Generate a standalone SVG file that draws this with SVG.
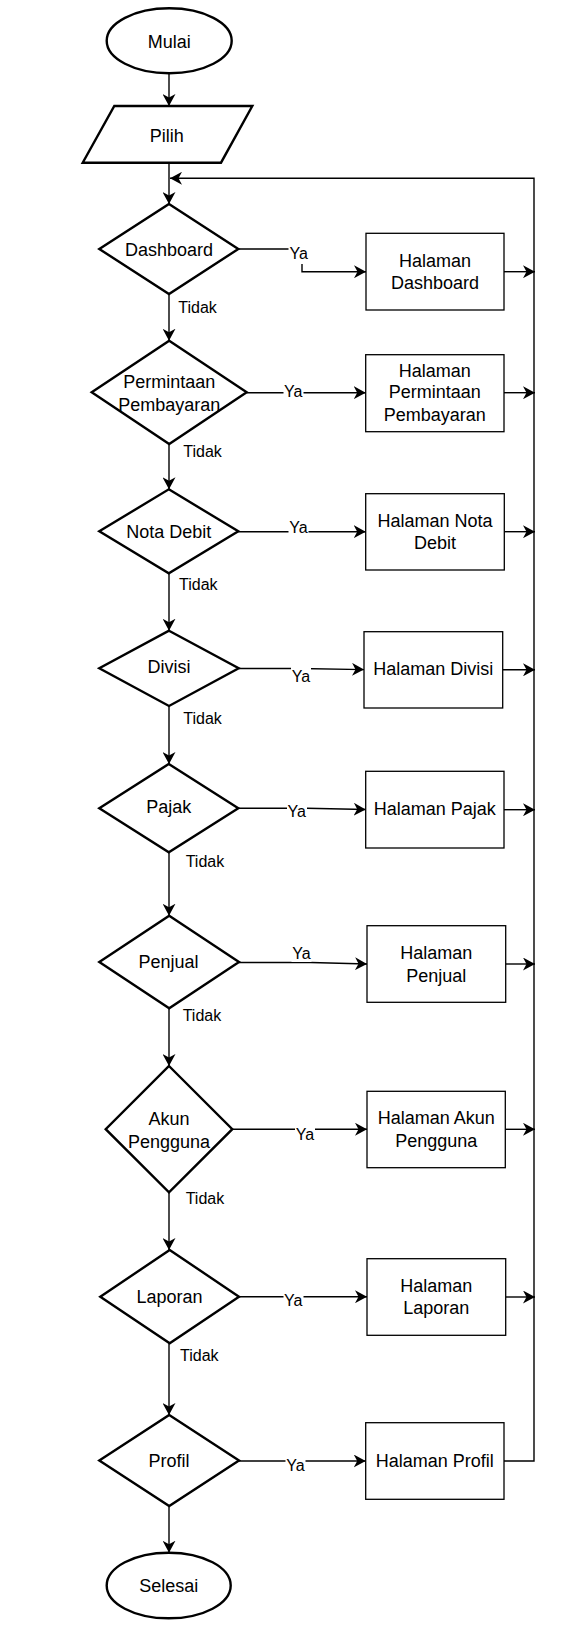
<svg xmlns="http://www.w3.org/2000/svg" width="576" height="1629" viewBox="0 0 576 1629">
<style>
.shape{fill:#fff;stroke:#000;stroke-width:2.4}
.box{fill:#fff;stroke:#000;stroke-width:1.3}
.t{font-family:"Liberation Sans",Arial,sans-serif;font-size:18px;fill:#000;text-anchor:middle}
.lbl{font-family:"Liberation Sans",Arial,sans-serif;font-size:16px;fill:#000}
.ya{text-anchor:middle}
.c{fill:none;stroke:#000;stroke-width:1.4}
.a{marker-end:url(#arr)}
.bg{fill:#fff}
</style>
<defs>
<marker id="arr" viewBox="0 0 12 13" refX="12" refY="6.5" markerWidth="12" markerHeight="13" markerUnits="userSpaceOnUse" orient="auto">
<path d="M0,0 L12,6.5 L0,13 L3.5,6.5 Z" fill="#000"/>
</marker>
</defs>
<rect width="576" height="1629" fill="#fff"/>

<g id="connectors">
<path class="c a" d="M169,73.3 V106"/>
<path class="c a" d="M169,163 V204"/>
<path class="c a" d="M169,294 V340.7"/>
<path class="c a" d="M169,444 V489.3"/>
<path class="c a" d="M169,573.3 V630.7"/>
<path class="c a" d="M169,706 V764"/>
<path class="c a" d="M169,852.3 V915.7"/>
<path class="c a" d="M169,1008.3 V1066"/>
<path class="c a" d="M169,1192.3 V1250"/>
<path class="c a" d="M169,1343.3 V1415"/>
<path class="c a" d="M169,1506 V1552.7"/>

<path class="c a" d="M238.3,249 H302 V271.7 H366"/>
<path class="c a" d="M246.7,392.7 H365.7"/>
<path class="c a" d="M238.3,531.7 H365.7"/>
<path class="c a" d="M239,668.5 H300 L364,669.6"/>
<path class="c a" d="M238.3,808.3 H306.7 L365.7,809.5"/>
<path class="c a" d="M239,962.5 H310.7 L367,964"/>
<path class="c a" d="M232.3,1129.3 H367"/>
<path class="c a" d="M239,1296.7 H367"/>
<path class="c a" d="M239,1461 H365.7"/>

<path class="c a" d="M504,271.7 H535"/>
<path class="c a" d="M504,392.7 H535"/>
<path class="c a" d="M504.3,531.7 H535"/>
<path class="c a" d="M502.7,669.8 H535"/>
<path class="c a" d="M504,809.7 H535"/>
<path class="c a" d="M505.7,964 H535"/>
<path class="c a" d="M505.3,1129.3 H535"/>
<path class="c a" d="M505.7,1297 H535"/>
<path class="c a" d="M504,1461 H534 V178.3 H170"/>

<rect class="bg" x="288.5" y="244" width="21" height="20"/>
<text class="lbl ya" x="298.7" y="259">Ya</text>
<rect class="bg" x="283.5" y="383" width="20" height="17"/>
<text class="lbl ya" x="293.3" y="397">Ya</text>
<rect class="bg" x="288.5" y="519" width="20" height="16"/>
<text class="lbl ya" x="298.5" y="533">Ya</text>
<rect class="bg" x="291" y="666" width="20" height="18"/>
<text class="lbl ya" x="301" y="682">Ya</text>
<rect class="bg" x="287" y="802" width="20" height="17"/>
<text class="lbl ya" x="296.8" y="816.5">Ya</text>
<rect class="bg" x="291.5" y="945" width="20" height="17"/>
<text class="lbl ya" x="301.5" y="959">Ya</text>
<rect class="bg" x="295" y="1125" width="20" height="17"/>
<text class="lbl ya" x="305" y="1140">Ya</text>
<rect class="bg" x="283.5" y="1291" width="20" height="17"/>
<text class="lbl ya" x="293.3" y="1306">Ya</text>
<rect class="bg" x="285.5" y="1455" width="20" height="18"/>
<text class="lbl ya" x="295.5" y="1471">Ya</text>

<text class="lbl" x="178.3" y="313">Tidak</text>
<text class="lbl" x="183.3" y="456.7">Tidak</text>
<text class="lbl" x="179" y="589.5">Tidak</text>
<text class="lbl" x="183.3" y="724.3">Tidak</text>
<text class="lbl" x="185.7" y="867.3">Tidak</text>
<text class="lbl" x="182.7" y="1021">Tidak</text>
<text class="lbl" x="185.7" y="1204.3">Tidak</text>
<text class="lbl" x="180" y="1360.7">Tidak</text>
</g>

<g id="mulai">
<ellipse class="shape" cx="169.2" cy="40.8" rx="62.5" ry="32.5"/>
<text class="t" x="169.2" y="47.7">Mulai</text>
</g>
<g id="pilih">
<path class="shape" d="M114.3,106 H252.3 L221,162.7 H82.7 Z"/>
<text class="t" x="166.7" y="141.7">Pilih</text>
</g>

<g id="d-dashboard">
<path class="shape" d="M169,204 L238.3,249 L169,294 L99.3,249 Z"/>
<text class="t" x="169" y="256">Dashboard</text>
</g>
<g id="d-permintaan">
<path class="shape" d="M169.2,340.7 L246.7,392.3 L169.2,444 L91.7,392.3 Z"/>
<text class="t" x="169.2" y="388.3">Permintaan</text>
<text class="t" x="169.2" y="410.5">Pembayaran</text>
</g>
<g id="d-nota">
<path class="shape" d="M168.8,489.3 L238.3,531.3 L168.8,573.3 L99.3,531.3 Z"/>
<text class="t" x="168.8" y="538.3">Nota Debit</text>
</g>
<g id="d-divisi">
<path class="shape" d="M169,630.7 L238.7,668.3 L169,706 L99.3,668.3 Z"/>
<text class="t" x="169" y="673.3">Divisi</text>
</g>
<g id="d-pajak">
<path class="shape" d="M168.8,764 L238.3,808.2 L168.8,852.3 L99.3,808.2 Z"/>
<text class="t" x="168.8" y="813.3">Pajak</text>
</g>
<g id="d-penjual">
<path class="shape" d="M169.2,915.7 L239,962 L169.2,1008.3 L99.3,962 Z"/>
<text class="t" x="168.5" y="968.3">Penjual</text>
</g>
<g id="d-akun">
<path class="shape" d="M169,1066 L232.3,1129.2 L169,1192.3 L105.7,1129.2 Z"/>
<text class="t" x="169" y="1125">Akun</text>
<text class="t" x="169" y="1147.7">Pengguna</text>
</g>
<g id="d-laporan">
<path class="shape" d="M169.7,1250 L239,1296.7 L169.7,1343.3 L100.3,1296.7 Z"/>
<text class="t" x="169.5" y="1302.7">Laporan</text>
</g>
<g id="d-profil">
<path class="shape" d="M169.2,1415 L239,1460.5 L169.2,1506 L99.3,1460.5 Z"/>
<text class="t" x="169" y="1466.7">Profil</text>
</g>

<g id="r-dashboard">
<rect class="box" x="366" y="233.3" width="138" height="76.7"/>
<text class="t" x="435" y="266.7">Halaman</text>
<text class="t" x="435" y="289.3">Dashboard</text>
</g>
<g id="r-permintaan">
<rect class="box" x="365.7" y="354.7" width="138.3" height="77"/>
<text class="t" x="434.8" y="376.7">Halaman</text>
<text class="t" x="434.8" y="398.3">Permintaan</text>
<text class="t" x="434.8" y="420.7">Pembayaran</text>
</g>
<g id="r-nota">
<rect class="box" x="365.7" y="493.7" width="138.6" height="76.3"/>
<text class="t" x="435" y="526.7">Halaman Nota</text>
<text class="t" x="435" y="549.3">Debit</text>
</g>
<g id="r-divisi">
<rect class="box" x="364" y="631.7" width="138.7" height="76.3"/>
<text class="t" x="433.3" y="675.3">Halaman Divisi</text>
</g>
<g id="r-pajak">
<rect class="box" x="365.7" y="771.3" width="138.3" height="76.7"/>
<text class="t" x="434.8" y="815.3">Halaman Pajak</text>
</g>
<g id="r-penjual">
<rect class="box" x="367" y="925.7" width="138.7" height="76.6"/>
<text class="t" x="436.3" y="959.3">Halaman</text>
<text class="t" x="436.3" y="981.7">Penjual</text>
</g>
<g id="r-akun">
<rect class="box" x="367" y="1091.3" width="138.3" height="76.4"/>
<text class="t" x="436.2" y="1124.3">Halaman Akun</text>
<text class="t" x="436.2" y="1147.3">Pengguna</text>
</g>
<g id="r-laporan">
<rect class="box" x="367" y="1258.7" width="138.7" height="76.6"/>
<text class="t" x="436.3" y="1291.7">Halaman</text>
<text class="t" x="436.3" y="1314">Laporan</text>
</g>
<g id="r-profil">
<rect class="box" x="365.7" y="1422.7" width="138.3" height="76.6"/>
<text class="t" x="434.8" y="1467">Halaman Profil</text>
</g>

<g id="selesai">
<ellipse class="shape" cx="168.7" cy="1585.5" rx="62" ry="32.8"/>
<text class="t" x="168.7" y="1592.3">Selesai</text>
</g>
</svg>
